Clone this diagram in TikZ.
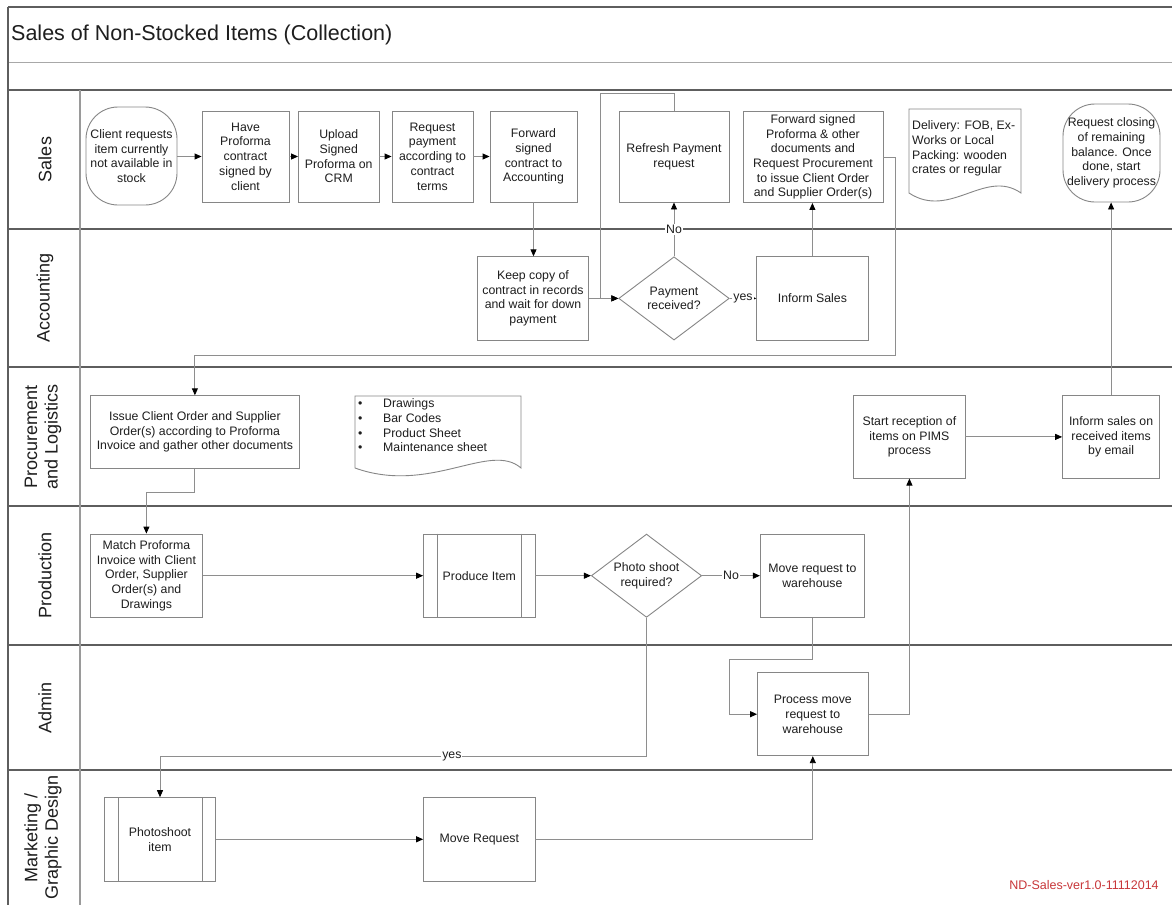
\documentclass[tikz,border=0pt]{standalone}
\usepackage{fontspec}
\setmainfont{Liberation Sans}
\usetikzlibrary{arrows.meta,shapes.geometric,calc}

\definecolor{laneline}{HTML}{5E5E5E}
\definecolor{titleline}{HTML}{A8A8A8}
\definecolor{colline}{HTML}{9A9A9A}
\definecolor{boxline}{HTML}{868686}
\definecolor{connline}{HTML}{8E8E8E}
\definecolor{inktext}{HTML}{1E1E1E}
\definecolor{versionred}{HTML}{C8373A}

\newcommand\nodefont{\fontsize{12.3}{14.7}\selectfont}
\newcommand\lanefont{\fontsize{18}{20.5}\selectfont}
\newcommand\docbullet{\makebox[25pt][l]{\textbullet}}

\tikzset{
  lane/.style={draw=laneline, line width=1.3pt},
  procbox/.style={draw=boxline, line width=0.9pt, fill=white, align=center,
    font=\nodefont, text=inktext, inner sep=1pt},
  decision/.style={diamond, shape aspect=1.33, draw=boxline, line width=0.9pt,
    fill=white, align=center, font=\nodefont, text=inktext, inner sep=0pt},
  docshape/.style={draw=boxline, line width=0.9pt, fill=white},
  subline/.style={draw=boxline, line width=0.9pt},
  conn/.style={draw=connline, line width=0.9pt,
    -{Triangle[length=7pt,width=6pt,color=black]}},
  edgelabel/.style={fill=white, inner sep=1pt, font=\nodefont, text=inktext},
  lanelabel/.style={rotate=90, align=center, font=\lanefont, text=inktext}
}

\begin{document}
\begin{tikzpicture}[x=1pt,y=-1pt]
  \useasboundingbox (0,0) rectangle (1172,905);
  \fill[white] (0,0) rectangle (1172,905);

  % swimlane frame
  \draw[lane] (8,7) -- (1172,7);
  \draw[draw=titleline, line width=1pt] (8,62) -- (1172,62);
  \foreach \yy in {90,229,367,506,645,770}
    \draw[lane] (8,\yy) -- (1172,\yy);
  \draw[lane] (8,7) -- (8,905);
  \draw[draw=colline, line width=1.1pt] (80,90) -- (80,905);

  \node[anchor=west, font=\fontsize{21.5}{24}\selectfont, text=inktext, inner sep=0]
    (title) at (11,35) {Sales of Non-Stocked Items (Collection)};

  % lane labels
  \node[lanelabel] (lSales) at (45,159.5) {Sales};
  \node[lanelabel] (lAcc) at (45,298) {Accounting};
  \node[lanelabel] (lProc) at (43,436.5) {Procurement\\and Logistics};
  \node[lanelabel] (lProd) at (45,575.5) {Production};
  \node[lanelabel] (lAdmin) at (45,707.5) {Admin};
  \node[lanelabel] (lMkt) at (43,837.5) {Marketing /\\Graphic Design};

  % Sales
  \node[procbox, rounded corners=32pt, minimum width=91pt, minimum height=98pt]
    (client) at (131.5,156) {Client requests\\item currently\\not available in\\stock};
  \node[procbox, minimum width=87pt, minimum height=91pt]
    (proforma) at (245.5,156.5) {Have\\Proforma\\contract\\signed by\\client};
  \node[procbox, minimum width=80.5pt, minimum height=91pt]
    (upload) at (338.75,156.5) {Upload\\Signed\\Proforma on\\CRM};
  \node[procbox, minimum width=81pt, minimum height=91pt]
    (reqpay) at (432.5,156.5) {Request\\payment\\according to\\contract\\terms};
  \node[procbox, minimum width=87pt, minimum height=91pt]
    (fwdacc) at (533.5,156.5) {Forward\\signed\\contract to\\Accounting};
  \node[procbox, minimum width=110pt, minimum height=91pt]
    (refresh) at (674,156.5) {Refresh Payment\\request};
  \node[procbox, minimum width=140pt, minimum height=91pt]
    (fwdproc) at (813,157) {Forward signed\\Proforma \& other\\documents and\\Request Procurement\\to issue Client Order\\and Supplier Order(s)};

  \draw[docshape] (909,109) -- (1021,109) -- (1021,193)
    .. controls (985,168) and (950,220) .. (909,193) -- cycle;
  \node[anchor=north west, align=left, font=\nodefont, text=inktext, inner sep=0]
    (delivery) at (912,120.5) {Delivery: FOB, Ex-\\Works or Local\\Packing: wooden\\crates or regular};

  \node[procbox, rounded corners=32pt, minimum width=97pt, minimum height=98pt]
    (closing) at (1111.5,153) {Request closing\\of remaining\\balance. Once\\done, start\\delivery process};

  % Accounting
  \node[procbox, minimum width=111pt, minimum height=83.3pt]
    (keep) at (533,298.4) {Keep copy of\\contract in records\\and wait for down\\payment};
  \node[decision, minimum width=110.5pt, minimum height=83.3pt]
    (pay) at (674,298.4) {Payment\\received?};
  \node[procbox, minimum width=111.3pt, minimum height=83.3pt]
    (inform) at (812.4,298.4) {Inform Sales};

  % Procurement and Logistics
  \node[procbox, minimum width=208.3pt, minimum height=72.3pt]
    (issue) at (194.9,431.9) {Issue Client Order and Supplier\\Order(s) according to Proforma\\Invoice and gather other documents};

  \draw[docshape] (355,396) -- (521,396) -- (521,468)
    .. controls (490,441) and (430,495) .. (355,468) -- cycle;
  \node[anchor=north west, align=left, font=\nodefont, text=inktext, inner sep=0]
    (docs) at (358,398.5) {\docbullet Drawings\\\docbullet Bar Codes\\\docbullet Product Sheet\\\docbullet Maintenance sheet};

  \node[procbox, minimum width=111.2pt, minimum height=82.3pt]
    (reception) at (909.4,436.9) {Start reception of\\items on PIMS\\process};
  \node[procbox, minimum width=97pt, minimum height=82.3pt]
    (email) at (1111.1,436.9) {Inform sales on\\received items\\by email};

  % Production
  \node[procbox, minimum width=111.3pt, minimum height=83.3pt]
    (match) at (146.4,575.7) {Match Proforma\\Invoice with Client\\Order, Supplier\\Order(s) and\\Drawings};
  \node[procbox, minimum width=111.4pt, minimum height=83.3pt]
    (produce) at (479.3,575.7) {Produce Item};
  \draw[subline] ([xshift=14pt]produce.north west) -- ([xshift=14pt]produce.south west);
  \draw[subline] ([xshift=-14pt]produce.north east) -- ([xshift=-14pt]produce.south east);
  \node[decision, minimum width=110.3pt, minimum height=83.3pt]
    (photo) at (646.5,575.7) {Photo shoot\\required?};
  \node[procbox, minimum width=104pt, minimum height=83.3pt]
    (movewh) at (812.4,575.7) {Move request to\\warehouse};

  % Admin
  \node[procbox, minimum width=110.5pt, minimum height=83pt]
    (procmove) at (812.8,714.2) {Process move\\request to\\warehouse};

  % Marketing / Graphic Design
  \node[procbox, minimum width=111pt, minimum height=83.3pt]
    (photoshoot) at (160,839.3) {Photoshoot\\item};
  \draw[subline] ([xshift=14pt]photoshoot.north west) -- ([xshift=14pt]photoshoot.south west);
  \draw[subline] ([xshift=-14pt]photoshoot.north east) -- ([xshift=-14pt]photoshoot.south east);
  \node[procbox, minimum width=111.4pt, minimum height=83.3pt]
    (moverequest) at (479.3,839.3) {Move Request};

  % connectors
  \draw[conn] (client.east |- proforma.west) -- (proforma.west);
  \draw[conn] (proforma.east) -- (upload.west);
  \draw[conn] (upload.east) -- (reqpay.west);
  \draw[conn] (reqpay.east) -- (fwdacc.west);
  \draw[conn] (fwdacc.south) -- (fwdacc.south |- keep.north);
  \draw[conn] (keep.east) -- (pay.west);
  \draw[conn] (refresh.north) |- (600,93) |- (pay.west);
  \draw[conn] (pay.north) -- node[edgelabel]{No} (refresh.south);
  \draw[conn] (pay.east) -- node[edgelabel]{yes} (inform.west);
  \draw[conn] (inform.north) -- (inform.north |- fwdproc.south);
  \draw[conn] (fwdproc.east) -- (895.3,157) -- (895.3,355) -- (issue.north |- 0,355) -- (issue.north);
  \draw[conn] (issue.south) -- (issue.south |- 0,492.7) -| (match.north);
  \draw[conn] (match.east) -- (produce.west);
  \draw[conn] (produce.east) -- (photo.west);
  \draw[conn] (photo.east) -- node[edgelabel]{No} (movewh.west);
  \draw[conn] (movewh.south) -- (812.4,659) -- (729.5,659) |- (procmove.west);
  \draw[conn] (procmove.east) -| (reception.south);
  \draw[conn] (reception.east) -- (email.west);
  \draw[conn] (email.north) -- (email.north |- closing.south);
  \draw[conn] (photo.south) -- (646.5,756.7) -- node[edgelabel, pos=0.4]{yes} (photoshoot.north |- 0,756.7) -- (photoshoot.north);
  \draw[conn] (photoshoot.east) -- (moverequest.west);
  \draw[conn] (moverequest.east) -| (procmove.south);

  \node[font=\fontsize{12.5}{15}\selectfont, text=versionred, inner sep=0]
    (version) at (1084,885) {ND-Sales-ver1.0-11112014};
\end{tikzpicture}
\end{document}
